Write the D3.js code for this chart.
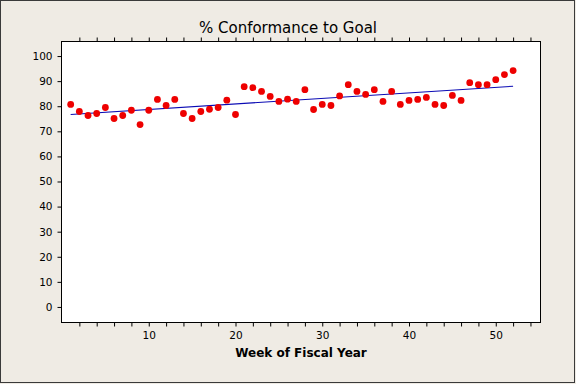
<!DOCTYPE html>
<html>
<head>
<meta charset="utf-8">
<script src="https://cdn.jsdelivr.net/npm/d3@7"></script>
<style>
  html, body { margin: 0; padding: 0; background: #efebe4; }
  svg { display: block; }
  text { font-family: "DejaVu Sans", sans-serif; fill: #000; }
</style>
</head>
<body>
<svg id="chart" width="576" height="384"></svg>
<script>
// ---- data ----
const weeks = d3.range(1, 53);
const conformance = [
  80.7, 77.9, 76.3, 77.1, 79.5, 75.1, 76.3, 78.4, 72.7, 78.4,
  82.7, 80.3, 82.7, 77.1, 75.1, 77.9, 78.8, 79.5, 82.4, 76.7,
  87.8, 87.4, 85.9, 83.9, 81.9, 82.8, 81.9, 86.6, 78.7, 80.7,
  80.3, 84.1, 88.6, 85.9, 84.7, 86.6, 81.9, 85.9, 80.7, 82.3,
  82.7, 83.5, 80.7, 80.3, 84.3, 82.3, 89.4, 88.6, 88.6, 90.6,
  92.6, 94.2
];
const yTicks = [0, 10, 20, 30, 40, 50, 60, 70, 80, 90, 100];
const xTicks = d3.range(2, 55, 2);
const xLabels = [10, 20, 30, 40, 50];
const titleText = "% Conformance to Goal";
const xTitle = "Week of Fiscal Year";

// ---- layout ----
const W = 576, H = 384;
const pLeft = 62, pRight = 540, pTop = 42, pBottom = 322;

const svg = d3.select("#chart");

// outer frame
svg.append("rect").attr("x", 0.5).attr("y", 0.5).attr("width", W - 2).attr("height", H - 2)
  .attr("fill", "#efebe4").attr("stroke", "#3a3a3a").attr("stroke-width", 1);

const x = d3.scaleLinear().domain([0, 55.1]).range([pLeft, pRight]);
const y = d3.scaleLinear().domain([-6, 105.6]).range([pBottom, pTop]);

// plot area
svg.append("rect").attr("x", pLeft - 0.5).attr("y", pTop - 0.5)
  .attr("width", pRight - pLeft + 1).attr("height", pBottom - pTop + 1)
  .attr("fill", "#ffffff").attr("stroke", "#000").attr("stroke-width", 1);

// axes
const gy = svg.append("g").attr("transform", `translate(${pLeft - 0.5},0)`)
  .call(d3.axisLeft(y).tickValues(yTicks).tickSize(4).tickPadding(5));
const gx = svg.append("g").attr("transform", `translate(0,${pBottom + 0.5})`)
  .call(d3.axisBottom(x).tickValues(xTicks).tickSize(4).tickPadding(5)
    .tickFormat(d => xLabels.includes(d) ? d : ""));
const gt = svg.append("g").attr("transform", `translate(0,${pTop - 0.5})`)
  .call(d3.axisTop(x).tickValues(xTicks).tickSize(4).tickFormat(""));

[gy, gx, gt].forEach(g => {
  g.select(".domain").remove();
  g.selectAll("line").attr("stroke", "#000");
  g.selectAll("text").style("font-family", "'DejaVu Sans', sans-serif")
    .style("font-size", "10.5px").attr("fill", "#000");
});

// fitted line (least squares from data)
const n = weeks.length;
const mx = d3.mean(weeks), my = d3.mean(conformance);
let sxy = 0, sxx = 0;
for (let i = 0; i < n; i++) {
  sxy += (weeks[i] - mx) * (conformance[i] - my);
  sxx += (weeks[i] - mx) * (weeks[i] - mx);
}
const slope = sxy / sxx, intercept = my - slope * mx;
const wMin = d3.min(weeks), wMax = d3.max(weeks);
svg.append("line")
  .attr("x1", x(wMin)).attr("y1", y(intercept + slope * wMin))
  .attr("x2", x(wMax)).attr("y2", y(intercept + slope * wMax))
  .attr("stroke", "#0a0ab4").attr("stroke-width", 1.1);

// points
svg.append("g").selectAll("circle")
  .data(weeks.map((w, i) => ({ w, v: conformance[i] })))
  .join("circle")
  .attr("cx", d => x(d.w)).attr("cy", d => y(d.v)).attr("r", 3.4)
  .attr("fill", "#ee0000");

// titles
svg.append("text").attr("x", 288).attr("y", 33).attr("text-anchor", "middle")
  .style("font-size", "15px").text(titleText);
svg.append("text").attr("x", (pLeft + pRight) / 2).attr("y", 357).attr("text-anchor", "middle")
  .style("font-size", "12px").style("font-weight", "bold").text(xTitle);
</script>
</body>
</html>
